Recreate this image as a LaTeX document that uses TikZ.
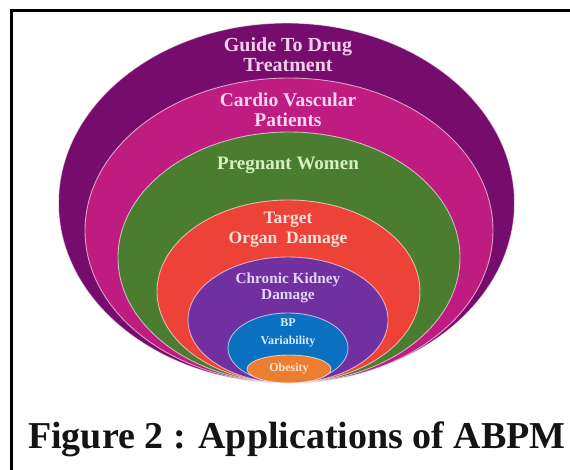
\documentclass[tikz,border=0pt]{standalone}
\usepackage{fontspec}
\setmainfont{Liberation Serif}
\definecolor{cOuter}{RGB}{118,12,108}
\definecolor{cMagenta}{RGB}{190,28,128}
\definecolor{cGreen}{RGB}{74,125,48}
\definecolor{cRed}{RGB}{236,66,56}
\definecolor{cViolet}{RGB}{112,48,160}
\definecolor{cBlue}{RGB}{10,112,192}
\definecolor{cOrange}{RGB}{237,125,49}
\definecolor{tOuter}{RGB}{245,205,240}
\definecolor{tMagenta}{RGB}{250,212,240}
\definecolor{tGreen}{RGB}{215,240,190}
\definecolor{tRed}{RGB}{252,225,215}
\definecolor{tViolet}{RGB}{228,212,248}
\definecolor{tBlue}{RGB}{218,236,250}
\definecolor{tOrange}{RGB}{252,232,212}
\begin{document}
\begin{tikzpicture}[x=1pt,y=1pt,
  ring/.style={draw=white, draw opacity=0.6, line width=0.9pt},
  lab/.style={font=\bfseries, align=center, inner sep=0pt},
  frameline/.style={line width=3pt, black}]
\useasboundingbox (0,0) rectangle (570,469);
\begin{scope}
\clip (0,0) rectangle (570,469);
\fill[white] (0,0) rectangle (570,469);
\draw[frameline] (11.5,-20) -- (11.5,458.5) -- (600,458.5);
\end{scope}
% nested ellipses
\filldraw[ring, fill=cOuter]   (286.5,266)   ellipse [x radius=228,   y radius=180];
\filldraw[ring, fill=cMagenta] (289,238.5)   ellipse [x radius=204,   y radius=152.5];
\filldraw[ring, fill=cGreen]   (289,211.5)   ellipse [x radius=171,   y radius=125.5];
\filldraw[ring, fill=cRed]     (288.5,177.5) ellipse [x radius=131.5, y radius=91.5];
\filldraw[ring, fill=cViolet]  (288,149)     ellipse [x radius=100,   y radius=63];
\filldraw[ring, fill=cBlue]    (288,121)     ellipse [x radius=60,    y radius=35];
\filldraw[ring, fill=cOrange]  (289,100)     ellipse [x radius=42,    y radius=14];
% labels
\node[lab, text=tOuter, font=\bfseries\fontsize{20}{20}\selectfont] (guide) at (288,414) {Guide To Drug\\Treatment};
\node[lab, text=tMagenta, font=\bfseries\fontsize{19.5}{20}\selectfont] (cardio) at (288,359) {Cardio Vascular\\Patients};
\node[lab, text=tGreen, font=\bfseries\fontsize{19}{20}\selectfont] (preg) at (288,304) {Pregnant Women};
\node[lab, text=tRed, font=\bfseries\fontsize{17.5}{20}\selectfont] (target) at (288,239) {Target\\Organ\ \ Damage};
\node[lab, text=tViolet, font=\bfseries\fontsize{15.3}{15.5}\selectfont] (ckd) at (288,181) {Chronic Kidney\\Damage};
\node[lab, text=tBlue, font=\bfseries\fontsize{12}{18}\selectfont] (bp) at (288,136) {BP\\Variability};
\node[lab, text=tOrange, font=\bfseries\fontsize{12}{12}\selectfont] (obes) at (289,100) {Obesity};
% caption
\node[lab, anchor=base, text=black!92, font=\bfseries\fontsize{38}{40}\selectfont] (cap) at (297,21) {Figure 2 : Applications of ABPM};
\end{tikzpicture}
\end{document}
